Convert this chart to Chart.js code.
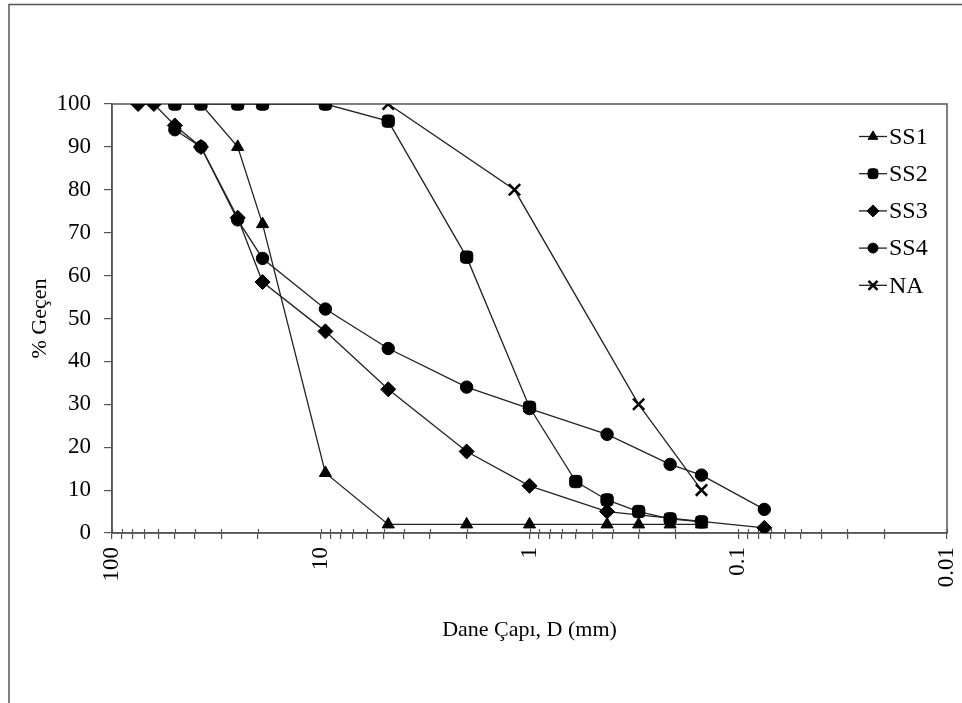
<!DOCTYPE html>
<html>
<head>
<meta charset="utf-8">
<script src="https://cdn.jsdelivr.net/npm/chart.js@4.4.0/dist/chart.umd.min.js"></script>
<style>
  body { margin: 0; background: #fff; }
  #wrap { width: 962px; height: 703px; }
</style>
</head>
<body>
<div id="wrap"><canvas id="gradChart" width="962" height="703"></canvas></div>
<script>
'use strict'

// sieve sizes (mm) and % passing
const ss1Size = [37.5, 25, 19, 9.5, 4.75, 2, 1, 0.425, 0.3, 0.212, 0.15];
const ss1Pass = [100, 90, 72, 14, 2, 2, 2, 2, 2, 2, 2];

const ss2Size = [50, 37.5, 25, 19, 9.5, 4.75, 2, 1, 0.6, 0.425, 0.3, 0.212, 0.15];
const ss2Pass = [100, 100, 100, 100, 100, 96, 64.3, 29.3, 12, 7.7, 5, 3.3, 2.6];

const ss3Size = [75, 63, 50, 37.5, 25, 19, 9.5, 4.75, 2, 1, 0.425, 0.075];
const ss3Pass = [100, 100, 95, 90, 73.5, 58.5, 47, 33.5, 19, 11, 5, 1.2];

const ss4Size = [50, 37.5, 25, 19, 9.5, 4.75, 2, 1, 0.425, 0.212, 0.15, 0.075];
const ss4Pass = [94, 90, 73, 64, 52.2, 43, 34, 29, 23, 16, 13.5, 5.5];

const naSize = [4.75, 1.18, 0.3, 0.15];
const naPass = [100, 80, 30, 10];

const seriesNames = ['SS1', 'SS2', 'SS3', 'SS4', 'NA'];

// x axis: decade labels + minor tick steps
const xTickValues = [100, 10, 1, 0.1, 0.01];
const xTickLabels = ['100', '10', '1', '0.1', '0.01'];
const xDecades = [0.01, 0.1, 1, 10];
const xMinorSteps = [1, 2, 3, 4, 5, 6, 7, 8, 9];

const FONT = "'Liberation Serif', 'Times New Roman', serif";
const INK = '#222';

function pts(xs, ys) {
    return xs.map((x, i) => ({ x: x, y: ys[i] }));
}

function mkSet(label, data, style, radius, bw) {
    return {
        label: label,
        data: data,
        borderColor: INK,
        borderWidth: 1.3,
        backgroundColor: '#000',
        pointStyle: style,
        pointRadius: radius,
        pointBackgroundColor: '#000',
        pointBorderColor: '#000',
        pointBorderWidth: bw,
        tension: 0,
        fill: false
    };
}

// plot frame, outer frame, crossing x ticks and the in-plot legend
const framePlugin = {
    id: 'framePlugin',
    beforeDraw(chart) {
        const ctx = chart.ctx;
        ctx.save();
        ctx.fillStyle = '#fff';
        ctx.fillRect(0, 0, chart.width, chart.height);
        ctx.strokeStyle = '#555';
        ctx.lineWidth = 1.5;
        ctx.beginPath();
        ctx.moveTo(9, chart.height);
        ctx.lineTo(9, 4.5);
        ctx.lineTo(chart.width, 4.5);
        ctx.stroke();
        ctx.restore();
    },
    beforeDatasetsDraw(chart) {
        const a = chart.chartArea;
        const ctx = chart.ctx;
        ctx.save();
        ctx.strokeStyle = '#555';
        ctx.lineWidth = 1.5;
        ctx.strokeRect(a.left, a.top, a.right - a.left, a.bottom - a.top);
        // short inner part of the x tick marks
        ctx.lineWidth = 1.2;
        ctx.beginPath();
        chart.scales.x.ticks.forEach(t => {
            const px = Math.round(chart.scales.x.getPixelForValue(t.value)) + 0.5;
            ctx.moveTo(px, a.bottom);
            ctx.lineTo(px, a.bottom - 4);
        });
        ctx.stroke();
        ctx.restore();
    },
    afterDraw(chart) {
        const ctx = chart.ctx;
        ctx.save();
        chart.data.datasets.forEach((ds, i) => {
            const y = 136.5 + i * 37.2;
            ctx.strokeStyle = INK;
            ctx.lineWidth = 1.3;
            ctx.beginPath();
            ctx.moveTo(859, y);
            ctx.lineTo(887, y);
            ctx.stroke();
            ctx.fillStyle = '#000';
            ctx.strokeStyle = '#000';
            ctx.lineWidth = ds.pointBorderWidth;
            Chart.helpers.drawPoint(ctx, {
                pointStyle: ds.pointStyle,
                radius: ds.pointRadius * 0.8,
                borderWidth: ds.pointBorderWidth,
                rotation: 0
            }, 873, y);
            ctx.fillStyle = '#000';
            ctx.font = '24px ' + FONT;
            ctx.textBaseline = 'middle';
            ctx.textAlign = 'left';
            ctx.fillText(ds.label, 889, y + 1);
        });
        ctx.restore();
    }
};

const xTicks = [];
xDecades.forEach(d => xMinorSteps.forEach(s => xTicks.push(Number((d * s).toPrecision(6)))));
xTicks.push(100);

const ctx = document.getElementById('gradChart').getContext('2d');
new Chart(ctx, {
    type: 'line',
    data: {
        datasets: [
            mkSet(seriesNames[0], pts(ss1Size, ss1Pass), 'triangle', 7, 1),
            mkSet(seriesNames[1], pts(ss2Size, ss2Pass), 'rectRounded', 7.2, 1),
            mkSet(seriesNames[2], pts(ss3Size, ss3Pass), 'rectRot', 7.5, 1),
            mkSet(seriesNames[3], pts(ss4Size, ss4Pass), 'circle', 6.2, 1),
            mkSet(seriesNames[4], pts(naSize, naPass), 'crossRot', 8, 2.5)
        ]
    },
    options: {
        responsive: false,
        animation: false,
        devicePixelRatio: 1,
        layout: { padding: { top: 104, right: 15, left: 0, bottom: 0 } },
        plugins: { legend: { display: false }, tooltip: { enabled: false } },
        scales: {
            x: {
                type: 'logarithmic',
                reverse: true,
                min: 0.01,
                max: 100,
                afterBuildTicks: (scale) => {
                    scale.ticks = xTicks.map(v => ({ value: v }));
                },
                afterFit: (scale) => { scale.height = 170; },
                grid: { drawOnChartArea: false, tickLength: 6, color: '#555', lineWidth: 1.2 },
                border: { color: '#555', width: 1.5 },
                ticks: {
                    autoSkip: false,
                    minRotation: 90,
                    maxRotation: 90,
                    padding: 8,
                    color: '#000',
                    font: { family: FONT, size: 23 },
                    callback: function (value) {
                        const k = xTickValues.findIndex(t => Math.abs(t - value) < t * 1e-6);
                        return k >= 0 ? xTickLabels[k] : '';
                    }
                },
                title: {
                    display: true,
                    text: 'Dane Çapı, D (mm)',
                    color: '#000',
                    font: { family: FONT, size: 22 },
                    padding: { top: 0, bottom: 60 }
                }
            },
            y: {
                min: 0,
                max: 100,
                afterFit: (scale) => { scale.width = 112; },
                grid: { drawOnChartArea: false, tickLength: 8, color: '#555', lineWidth: 1.2 },
                border: { color: '#555', width: 1.5 },
                ticks: {
                    stepSize: 10,
                    padding: 13,
                    color: '#000',
                    font: { family: FONT, size: 23 }
                },
                title: {
                    display: true,
                    text: '% Geçen',
                    color: '#000',
                    font: { family: FONT, size: 22 },
                    padding: { top: 27, bottom: 0 }
                }
            }
        }
    },
    plugins: [framePlugin]
});
</script>
</body>
</html>
